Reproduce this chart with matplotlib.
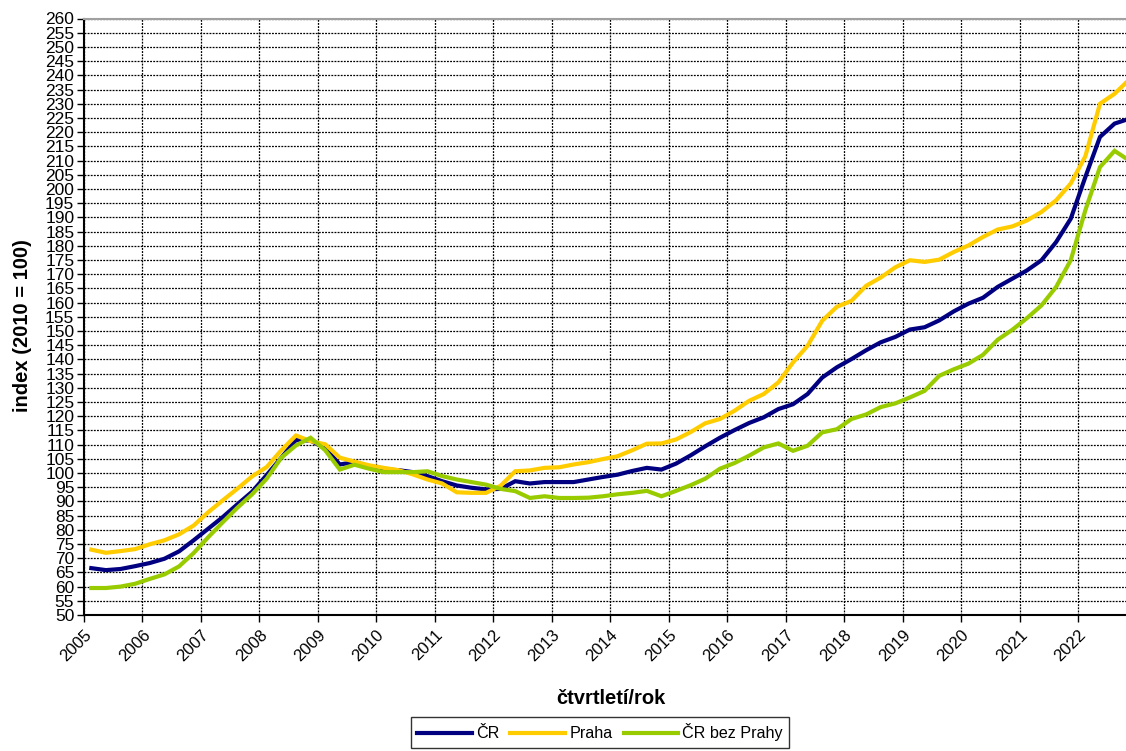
import matplotlib
matplotlib.use("Agg")
import matplotlib.pyplot as plt
import matplotlib.transforms as mtransforms
import numpy as np

plt.rcParams['font.family'] = ['Liberation Sans', 'DejaVu Sans']

# quarterly data 2005 Q1 .. 2022 Q4
start_year = 2005
n_quarters = 72

cr = [66.5, 65.8, 66.2, 67.2, 68.3, 69.8, 72.4, 76.3, 80.4, 84.5, 89.0, 93.4,
      99.3, 105.4, 111.6, 111.4, 108.7, 103.0, 103.8, 102.4, 101.2, 101.0, 100.3, 98.9,
      97.1, 95.6, 94.8, 94.2, 94.4, 97.1, 96.3, 96.8, 96.8, 96.8, 97.7, 98.6,
      99.4, 100.7, 101.8, 101.2, 103.3, 106.2, 109.4, 112.4, 115.1, 117.6, 119.6, 122.5,
      124.2, 127.8, 133.6, 137.2, 140.1, 143.2, 146.0, 147.9, 150.5, 151.3, 153.7, 156.9,
      159.6, 161.7, 165.5, 168.4, 171.3, 174.9, 181.3, 189.5, 204.2, 218.3, 223.0, 224.7]

praha = [73.0, 71.9, 72.5, 73.2, 74.9, 76.3, 78.4, 81.5, 86.2, 90.4, 94.5, 98.8,
         102.1, 108.0, 113.2, 111.2, 110.1, 105.4, 104.0, 102.7, 101.8, 101.0, 99.5, 97.7,
         96.3, 93.2, 93.0, 93.0, 95.5, 100.6, 100.9, 101.8, 102.0, 103.0, 103.8, 104.9,
         105.9, 108.0, 110.3, 110.4, 111.8, 114.4, 117.5, 119.0, 121.9, 125.4, 127.8, 131.9,
         138.9, 144.8, 153.6, 158.5, 160.6, 165.9, 168.8, 172.4, 174.9, 174.3, 175.1, 177.8,
         180.1, 183.1, 185.7, 186.8, 188.9, 191.9, 196.0, 201.9, 211.5, 230.0, 233.5, 238.5]

cr_bez_prahy = [59.5, 59.5, 60.0, 61.0, 62.7, 64.3, 67.1, 71.8, 77.4, 82.7, 87.8, 92.5,
                98.0, 105.4, 109.7, 112.4, 108.0, 101.2, 102.9, 101.5, 100.3, 100.3, 100.3, 100.6,
                98.9, 97.7, 96.8, 95.9, 94.4, 93.6, 91.2, 91.8, 91.2, 91.2, 91.3, 91.8,
                92.5, 93.0, 93.7, 91.8, 93.7, 95.7, 98.0, 101.5, 103.5, 106.1, 109.0, 110.4,
                107.8, 109.6, 114.3, 115.4, 119.0, 120.6, 123.2, 124.5, 126.6, 128.9, 134.2, 136.5,
                138.5, 141.6, 146.9, 150.4, 154.5, 159.0, 165.5, 174.9, 192.5, 207.7, 213.4, 210.0]

series_names = ["ČR", "Praha", "ČR bez Prahy"]
series_colors = ["#000080", "#FFCC00", "#99CC00"]
year_labels = [str(y) for y in range(2005, 2023)]

# each quarter placed at the middle of its quarter slot
x = start_year + 0.125 + 0.25 * np.arange(n_quarters)

fig = plt.figure(figsize=(11.26, 7.51), dpi=100)
ax = fig.add_axes([84 / 1126, 1 - 615 / 751, 1 - 84 / 1126, (615 - 18.5) / 751])

grid_kw = dict(color="black", linestyle=(0, (1.5, 1)), linewidth=0.9)
ax.set_axisbelow(True)
ax.yaxis.grid(True, **grid_kw)
ax.xaxis.grid(True, **grid_kw)

for vals, name, col in zip([cr, praha, cr_bez_prahy], series_names, series_colors):
    ax.plot(x, vals, color=col, linewidth=3.0, label=name, solid_joinstyle="miter")

ax.set_xlim(2005, 2022.82)
ax.set_ylim(50, 260)
ax.set_yticks(np.arange(50, 261, 5))
ax.set_xticks(np.arange(2005, 2023))
ax.set_xticklabels(year_labels, rotation=45, ha="right", va="top",
                   rotation_mode="anchor", fontsize=12)
offset = mtransforms.ScaledTranslation(8 / 100, -4 / 100, fig.dpi_scale_trans)
for lbl in ax.get_xticklabels():
    lbl.set_transform(lbl.get_transform() + offset)
ax.tick_params(axis="y", labelsize=12.5, length=5, width=1, pad=2)
ax.tick_params(axis="x", length=5, width=1, pad=4)

for sp in ["left", "bottom"]:
    ax.spines[sp].set_linewidth(1.5)
    ax.spines[sp].set_color("black")
ax.spines["top"].set_color("#A0A0A0")
ax.spines["top"].set_linewidth(1.5)
ax.spines["right"].set_visible(False)

fig.text(22 / 1126, 1 - 326 / 751, "index (2010 = 100)", fontsize=14.5, fontweight="bold",
         ha="center", va="center", rotation=90)
fig.text(611 / 1126, 1 - 698 / 751, "čtvrtletí/rok", fontsize=14.5, fontweight="bold",
         ha="center", va="center")

leg = fig.legend(loc="upper center", bbox_to_anchor=(600 / 1126, 1 - 717 / 751),
                 ncol=3, frameon=True, fancybox=False, fontsize=11.6,
                 handlelength=3.4, handletextpad=0.25, columnspacing=0.7,
                 borderpad=0.4, borderaxespad=0, edgecolor="black")
leg.get_frame().set_linewidth(1.0)

fig.savefig("out.png", dpi=100)
